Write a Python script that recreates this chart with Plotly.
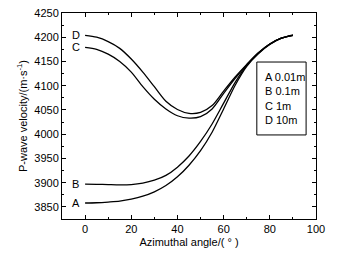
import plotly.graph_objects as go

angle = [0, 5, 10, 15, 20, 25, 30, 35, 40, 45, 50, 55, 60, 65, 70, 75, 80, 85, 90]
vel_A = [3858, 3858.5, 3860, 3862, 3866, 3872, 3881, 3894, 3912, 3936, 3966, 4004, 4052, 4101, 4140, 4166, 4185, 4198, 4204]
vel_B = [3897, 3896.5, 3896, 3895.5, 3896, 3899, 3905, 3915, 3932, 3955, 3985, 4021, 4064, 4107, 4142, 4167, 4186, 4198, 4204]
vel_C = [4179, 4175, 4165, 4150, 4128, 4098, 4072, 4052, 4038, 4033, 4036, 4052, 4084, 4115, 4143, 4167, 4186, 4198, 4204]
vel_D = [4204, 4200, 4191, 4177, 4155, 4128, 4098, 4068, 4051, 4043, 4045, 4059, 4089, 4118, 4144, 4168, 4186, 4198, 4205]
series_names = ["A", "B", "C", "D"]
legend_lines = ["A 0.01m", "B 0.1m", "C 1m", "D 10m"]

FONT = "Liberation Sans, Arial, sans-serif"
fig = go.Figure()
for name, vals in zip(series_names, [vel_A, vel_B, vel_C, vel_D]):
    fig.add_trace(go.Scatter(x=angle, y=vals, mode="lines", name=name,
                             line=dict(color="black", width=1.3, shape="spline", smoothing=0.8),
                             showlegend=False, hoverinfo="skip"))
    fig.add_annotation(x=-4, y=vals[0], text=name, showarrow=False, xanchor="center",
                       yanchor="middle", font=dict(size=11, color="black", family=FONT))

fig.add_shape(type="rect", xref="paper", yref="paper", x0=0.767, x1=0.961, y0=0.408, y1=0.762,
              line=dict(color="black", width=1), fillcolor="white", layer="below")
fig.add_annotation(xref="paper", yref="paper", x=0.79, y=0.587, xanchor="left", yanchor="middle",
                   text="<br>".join(legend_lines), align="left", showarrow=False,
                   font=dict(size=11, color="black", family=FONT))

axis_common = dict(showline=True, linecolor="black", linewidth=1, mirror="ticks",
                   ticks="inside", ticklen=4, tickcolor="black", tickwidth=1,
                   showgrid=False, zeroline=False, automargin=False,
                   tickfont=dict(size=11, color="black", family=FONT))
fig.update_xaxes(range=[-10, 100], tick0=0, dtick=20,
                 minor=dict(ticks="inside", dtick=10, ticklen=2, tickcolor="black"),
                 title=dict(text="Azimuthal angle/( ° )", standoff=4,
                            font=dict(size=11, color="black", family=FONT)),
                 **axis_common)
fig.update_yaxes(range=[3825, 4250], tick0=3850, dtick=50,
                 minor=dict(ticks="inside", dtick=25, ticklen=2, tickcolor="black"),
                 title=dict(text="P-wave velocity/(m·s<sup>-1</sup>)", standoff=4,
                            font=dict(size=11, color="black", family=FONT)),
                 **axis_common)
fig.update_layout(width=337, height=256, margin=dict(l=62, r=21, t=13, b=37),
                  plot_bgcolor="white", paper_bgcolor="white")
fig.write_html("out.html", config={"displayModeBar": False, "staticPlot": True},
               post_script="document.body.style.margin='0';document.body.style.padding='0';")
